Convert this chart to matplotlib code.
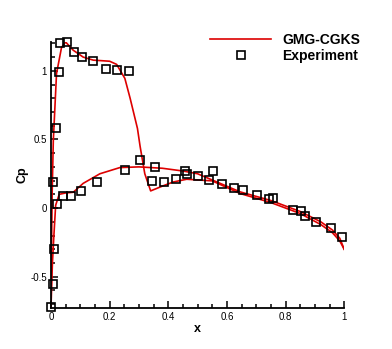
import matplotlib
matplotlib.use('Agg')
import matplotlib.pyplot as plt
from matplotlib.ticker import MultipleLocator

# GMG-CGKS solution, upper surface (with shock)
upper_x = [0.0, 0.002, 0.004, 0.008, 0.019, 0.036, 0.05, 0.076, 0.11, 0.144, 0.2, 0.224,
           0.252, 0.27, 0.295, 0.304, 0.32, 0.34, 0.38, 0.417, 0.463, 0.55, 0.645, 0.75,
           0.85, 0.92, 0.96, 0.985, 1.0]
upper_cp = [-0.73, -0.3, 0.1, 0.49, 0.98, 1.17, 1.21, 1.15, 1.10, 1.078, 1.07, 1.047,
            0.945, 0.80, 0.58, 0.45, 0.25, 0.125, 0.16, 0.19, 0.21, 0.198, 0.106, 0.04,
            -0.04, -0.12, -0.18, -0.24, -0.30]

# GMG-CGKS solution, lower surface
lower_x = [0.0, 0.005, 0.01, 0.016, 0.028, 0.05, 0.076, 0.11, 0.167, 0.235, 0.30, 0.38,
           0.45, 0.50, 0.645, 0.75, 0.85, 0.92, 0.96, 0.985, 1.0]
lower_cp = [-0.73, -0.4, -0.2, 0.02, 0.10, 0.11, 0.115, 0.18, 0.25, 0.295, 0.30, 0.29,
            0.27, 0.25, 0.118, 0.055, -0.025, -0.10, -0.16, -0.22, -0.30]

# experiment
exp_x = [0.0, 0.008, 0.01, 0.006, 0.016, 0.027, 0.031, 0.054, 0.080, 0.106, 0.144, 0.187,
         0.224, 0.265, 0.304, 0.344, 0.386, 0.425, 0.463, 0.50, 0.538, 0.583, 0.625,
         0.656, 0.702, 0.744, 0.757, 0.824, 0.852, 0.868, 0.904, 0.955, 0.992,
         0.019, 0.042, 0.067, 0.101, 0.156, 0.253, 0.355, 0.457, 0.552]
exp_cp = [-0.72, -0.55, -0.30, 0.19, 0.58, 0.99, 1.20, 1.21, 1.14, 1.10, 1.07, 1.015,
          1.007, 0.998, 0.35, 0.20, 0.19, 0.215, 0.247, 0.232, 0.208, 0.177, 0.147,
          0.133, 0.096, 0.063, 0.072, -0.015, -0.02, -0.059, -0.103, -0.147, -0.21,
          0.026, 0.087, 0.087, 0.123, 0.19, 0.28, 0.30, 0.27, 0.27]

plt.rcParams['font.family'] = 'Liberation Sans'

fig = plt.figure(figsize=(3.92, 3.49), dpi=100)
ax = fig.add_axes([0.130, 0.118, 0.748, 0.762])

red = '#dd0000'
ax.plot(upper_x, upper_cp, color=red, lw=1.2, label='GMG-CGKS')
ax.plot(lower_x, lower_cp, color=red, lw=1.2)
ax.plot(exp_x, exp_cp, ls='none', marker='s', ms=6, mfc='none', mec='black', mew=1.2,
        label='Experiment', clip_on=False, zorder=3)

ax.set_xlim(0, 1)
ax.set_ylim(-0.727, 1.211)
ax.xaxis.set_minor_locator(MultipleLocator(0.05))
ax.yaxis.set_minor_locator(MultipleLocator(0.1))
ax.set_xticks([0, 0.2, 0.4, 0.6, 0.8, 1.0])
ax.set_xticklabels(['0', '0.2', '0.4', '0.6', '0.8', '1'])
ax.set_yticks([-0.5, 0, 0.5, 1])
ax.set_yticklabels(['-0.5', '0', '0.5', '1'])

ax.tick_params(which='both', direction='in', labelsize=7, width=1.1, pad=3)
ax.tick_params(which='major', length=5)
ax.tick_params(which='minor', length=3)
ax.spines['top'].set_visible(False)
ax.spines['right'].set_visible(False)
ax.spines['left'].set_linewidth(1.3)
ax.spines['bottom'].set_linewidth(1.3)

ax.set_xlabel('x', fontsize=9, fontweight='bold', labelpad=1)
ax.set_ylabel('Cp', fontsize=9, fontweight='bold', labelpad=1)

leg = ax.legend(loc='upper left', bbox_to_anchor=(203 / 392, 1 - 26 / 349),
                bbox_transform=fig.transFigure, frameon=False, handlelength=4.4,
                handletextpad=0.8, labelspacing=0.15, borderpad=0,
                prop={'size': 10, 'weight': 'bold'})

fig.savefig('out.png', dpi=100)
